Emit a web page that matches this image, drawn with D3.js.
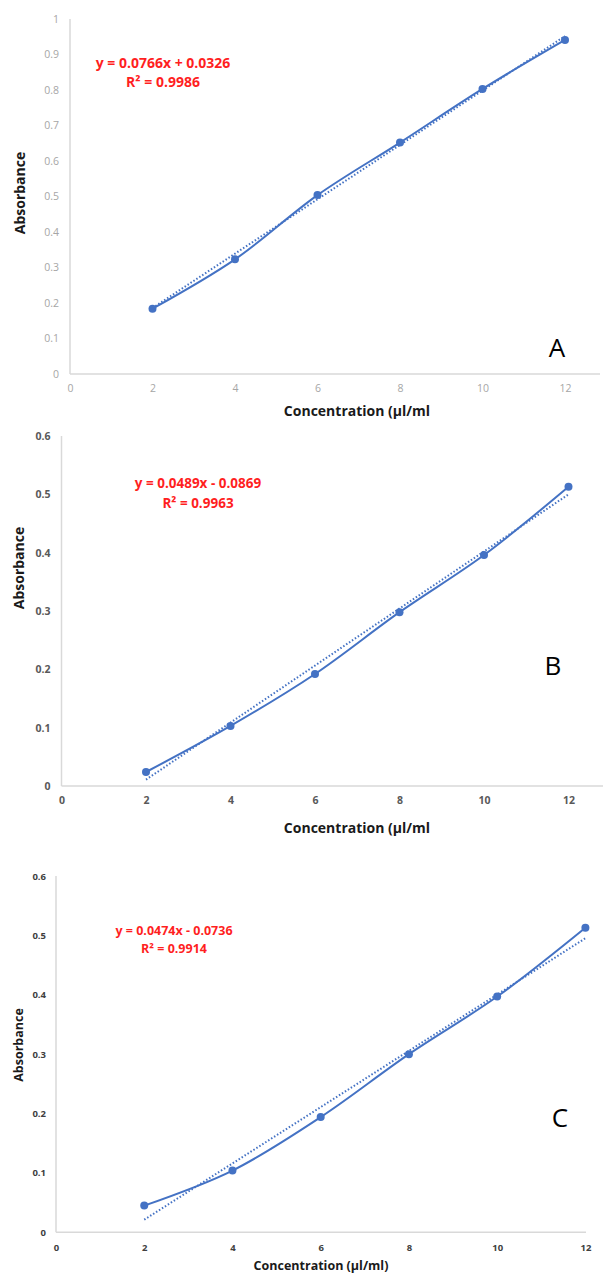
<!DOCTYPE html>
<html>
<head>
<meta charset="utf-8">
<script src="https://cdn.jsdelivr.net/npm/d3@7"></script>
<style>
  body { margin: 0; background: #fff; }
  svg { display: block; font-family: "Open Sans", Lato, sans-serif; }
</style>
</head>
<body>
<div id="chart"></div>
<script>
// shared x values (concentration, µl/ml)
const concentration = [2, 4, 6, 8, 10, 12];
const xTicks = [0, 2, 4, 6, 8, 10, 12];

// absorbance
const absorbanceA = [0.184, 0.323, 0.504, 0.652, 0.803, 0.941];
const absorbanceB = [0.024, 0.103, 0.192, 0.298, 0.396, 0.513];
const absorbanceC = [0.045, 0.104, 0.194, 0.300, 0.397, 0.513];

const yTicksA = [0, 0.1, 0.2, 0.3, 0.4, 0.5, 0.6, 0.7, 0.8, 0.9, 1];
const yTicksBC = [0, 0.1, 0.2, 0.3, 0.4, 0.5, 0.6];

// linear trendlines
const fitA = { slope: 0.0766, intercept: 0.0326, eq: "y = 0.0766x + 0.0326", r2: "R² = 0.9986" };
const fitB = { slope: 0.0489, intercept: -0.0869, eq: "y = 0.0489x - 0.0869", r2: "R² = 0.9963" };
const fitC = { slope: 0.0474, intercept: -0.0736, eq: "y = 0.0474x - 0.0736", r2: "R² = 0.9914" };

const blue = "#4472c4";
const red = "#ff1f1f";

const svg = d3.select("#chart").append("svg")
  .attr("width", 603)
  .attr("height", 1274);

/**
 * Draw one calibration panel
 */
function drawPanel(cfg) {
  const x = d3.scaleLinear().domain([0, 12]).range(cfg.xRange);
  const y = d3.scaleLinear().domain([0, cfg.yMax]).range(cfg.yRange);
  const g = svg.append("g");

  // axis lines
  g.append("line")
    .attr("x1", x(0)).attr("x2", x(0))
    .attr("y1", y(cfg.yMax)).attr("y2", y(0))
    .attr("stroke", "#d9d9d9").attr("stroke-width", 1.5);
  g.append("line")
    .attr("x1", x(0)).attr("x2", cfg.axisEnd)
    .attr("y1", y(0)).attr("y2", y(0))
    .attr("stroke", "#d9d9d9").attr("stroke-width", 1.5);

  const fmt = d => String(+d.toFixed(1));

  const yAxis = g.append("g")
    .attr("transform", `translate(${x(0)},0)`)
    .call(d3.axisLeft(y).tickValues(cfg.yTicks).tickSize(0).tickPadding(cfg.pad).tickFormat(fmt));
  const xAxis = g.append("g")
    .attr("transform", `translate(0,${y(0)})`)
    .call(d3.axisBottom(x).tickValues(xTicks).tickSize(0).tickPadding(cfg.xPad).tickFormat(fmt));

  [yAxis, xAxis].forEach(a => {
    a.select(".domain").remove();
    a.selectAll("text")
      .style("font-family", "'Open Sans', sans-serif")
      .style("font-size", cfg.tickSize + "px")
      .style("font-weight", cfg.tickWeight)
      .attr("fill", cfg.tickColor);
  });

  // axis titles
  g.append("text")
    .attr("x", cfg.xTitle[0]).attr("y", cfg.xTitle[1])
    .attr("text-anchor", "middle")
    .attr("dominant-baseline", "central")
    .style("font-size", cfg.titleSize + "px").style("font-weight", "bold")
    .attr("fill", "#1a1a1a")
    .text(cfg.xLabel);
  g.append("text")
    .attr("transform", `translate(${cfg.yTitle[0]},${cfg.yTitle[1]}) rotate(-90)`)
    .attr("text-anchor", "middle")
    .attr("dominant-baseline", "central")
    .style("font-size", cfg.titleSize + "px").style("font-weight", "bold")
    .attr("fill", "#1a1a1a")
    .text("Absorbance");

  // trendline (dotted)
  const x0 = concentration[0], x1 = concentration[concentration.length - 1];
  g.append("line")
    .attr("x1", x(x0)).attr("y1", y(cfg.fit.slope * x0 + cfg.fit.intercept))
    .attr("x2", x(x1)).attr("y2", y(cfg.fit.slope * x1 + cfg.fit.intercept))
    .attr("stroke", blue).attr("stroke-width", 2)
    .attr("stroke-dasharray", "1.5,2");

  // smoothed data line
  const pts = concentration.map((c, i) => [c, cfg.values[i]]);
  g.append("path")
    .datum(pts)
    .attr("fill", "none")
    .attr("stroke", blue)
    .attr("stroke-width", 2)
    .attr("d", d3.line().x(d => x(d[0])).y(d => y(d[1])).curve(d3.curveCatmullRom));

  g.selectAll(".dot")
    .data(pts)
    .enter().append("circle")
    .attr("class", "dot")
    .attr("cx", d => x(d[0]))
    .attr("cy", d => y(d[1]))
    .attr("r", 4)
    .attr("fill", blue);

  // equation
  g.append("text")
    .attr("x", cfg.eqPos[0]).attr("y", cfg.eqPos[1])
    .attr("text-anchor", "middle").attr("dominant-baseline", "central")
    .style("font-size", cfg.eqSize + "px").style("font-weight", "bold")
    .attr("fill", red)
    .text(cfg.fit.eq);
  g.append("text")
    .attr("x", cfg.eqPos[0]).attr("y", cfg.eqPos[1] + cfg.eqGap)
    .attr("text-anchor", "middle").attr("dominant-baseline", "central")
    .style("font-size", cfg.eqSize + "px").style("font-weight", "bold")
    .attr("fill", red)
    .text(cfg.fit.r2);

  // panel letter
  g.append("text")
    .attr("x", cfg.letterPos[0]).attr("y", cfg.letterPos[1])
    .attr("text-anchor", "middle").attr("dominant-baseline", "central")
    .style("font-size", "26px")
    .attr("fill", "#000")
    .text(cfg.letter);
}

drawPanel({
  values: absorbanceA, fit: fitA, yMax: 1, yTicks: yTicksA,
  xRange: [70, 565], yRange: [374, 19], axisEnd: 600,
  pad: 11, xPad: 11, tickSize: 10.5, tickWeight: "normal", tickColor: "#a6a6a6",
  xLabel: "Concentration (µl/ml", xTitle: [357, 410], yTitle: [19, 193], titleSize: 14,
  eqPos: [163, 62], eqGap: 19, eqSize: 14,
  letter: "A", letterPos: [557, 347]
});

drawPanel({
  values: absorbanceB, fit: fitB, yMax: 0.6, yTicks: yTicksBC,
  xRange: [61.5, 568.5], yRange: [786, 436], axisEnd: 603,
  pad: 11, xPad: 11, tickSize: 10.5, tickWeight: "bold", tickColor: "#595959",
  xLabel: "Concentration (µl/ml", xTitle: [357, 827], yTitle: [18, 568], titleSize: 14,
  eqPos: [198, 483], eqGap: 20, eqSize: 13.5,
  letter: "B", letterPos: [553, 665]
});

drawPanel({
  values: absorbanceC, fit: fitC, yMax: 0.6, yTicks: yTicksBC,
  xRange: [56, 585.4], yRange: [1232.3, 876], axisEnd: 586,
  pad: 10, xPad: 12, tickSize: 9.5, tickWeight: "bold", tickColor: "#404040",
  xLabel: "Concentration (µl/ml)", xTitle: [321, 1265], yTitle: [18, 1045], titleSize: 12.5,
  eqPos: [174, 930], eqGap: 18, eqSize: 12.5,
  letter: "C", letterPos: [560, 1117]
});
</script>
</body>
</html>
